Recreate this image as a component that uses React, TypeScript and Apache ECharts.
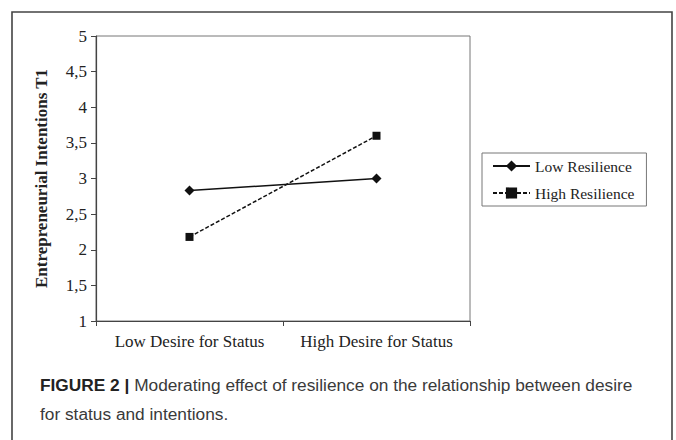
import React, { useEffect, useRef } from "react";
import * as echarts from "echarts";

const categories = ["Low Desire for Status", "High Desire for Status"];
const lowResilience = [2.83, 3.0];
const highResilience = [2.18, 3.6];
const seriesNames = ["Low Resilience", "High Resilience"];
const yTicks = [1, 1.5, 2, 2.5, 3, 3.5, 4, 4.5, 5];
const yAxisName = "Entrepreneurial Intentions T1";
const captionBold = "FIGURE 2 |";
const captionLine1 = " Moderating effect of resilience on the relationship between desire";
const captionLine2 = "for status and intentions.";

const SERIF = "'Liberation Serif', 'Times New Roman', serif";
const SANS = "'Liberation Sans', Arial, sans-serif";

export default function App() {
  const ref = useRef<HTMLDivElement>(null);
  useEffect(() => {
    if (!ref.current) return;
    const chart = echarts.init(ref.current, undefined, { renderer: "svg" });
    chart.setOption({
      animation: false,
      backgroundColor: "#fff",
      grid: { left: 96, right: 206, top: 36, bottom: 119, show: true, borderColor: "#777", borderWidth: 1, backgroundColor: "transparent" },
      legend: {
        orient: "vertical",
        left: 482,
        top: 153,
        data: seriesNames,
        itemWidth: 37,
        itemHeight: 14,
        itemGap: 11,
        padding: [5, 12, 5, 10],
        borderColor: "#777",
        borderWidth: 1,
        textStyle: { fontFamily: SERIF, fontSize: 15.5, color: "#222" },
      },
      xAxis: {
        type: "category",
        data: categories,
        boundaryGap: true,
        axisLine: { lineStyle: { color: "#444", width: 1.2 } },
        axisTick: { show: true, length: 5, inside: false, lineStyle: { color: "#444" } },
        axisLabel: { fontFamily: SERIF, fontSize: 17, color: "#222", margin: 12, interval: 0, hideOverlap: false },
        splitLine: { show: false },
      },
      yAxis: {
        type: "value",
        min: 1,
        max: 5,
        interval: 0.5,
        name: yAxisName,
        nameLocation: "middle",
        nameGap: 46,
        nameTextStyle: { fontFamily: SERIF, fontSize: 17, fontWeight: "bold", color: "#222" },
        axisLine: { show: true, lineStyle: { color: "#444", width: 1.2 } },
        axisTick: { show: true, length: 5, lineStyle: { color: "#444" } },
        axisLabel: {
          fontFamily: SERIF,
          fontSize: 17,
          color: "#222",
          margin: 9,
          formatter: (v: number) => (yTicks.includes(v) ? String(v).replace(".", ",") : ""),
        },
        splitLine: { show: false },
      },
      series: [
        {
          name: seriesNames[0],
          type: "line",
          data: lowResilience,
          symbol: "diamond",
          symbolSize: 10,
          lineStyle: { color: "#111", width: 1.5, type: "solid" },
          itemStyle: { color: "#111" },
        },
        {
          name: seriesNames[1],
          type: "line",
          data: highResilience,
          symbol: "rect",
          symbolSize: 8,
          lineStyle: { color: "#111", width: 1.5, type: [4, 2] },
          itemStyle: { color: "#111" },
        },
      ],
      graphic: [
        {
          type: "rect",
          shape: { x: 12, y: 12, width: 660, height: 460 },
          style: { fill: "none", stroke: "#444", lineWidth: 1.6 },
          silent: true,
        },
        {
          type: "text",
          left: 40,
          top: 376,
          style: {
            text: "{b|" + captionBold + "}" + captionLine1,
            font: `17.3px ${SANS}`,
            fill: "#3a3a3a",
            rich: { b: { fontWeight: "bold", fontFamily: SANS, fontSize: 17.3, fill: "#222" } },
          },
        },
        {
          type: "text",
          left: 40,
          top: 405,
          style: { text: captionLine2, font: `17.3px ${SANS}`, fill: "#3a3a3a" },
        },
      ],
    });
    return () => chart.dispose();
  }, []);
  return <div ref={ref} style={{ position: "absolute", left: 0, top: 0, width: 676, height: 440 }} />;
}
